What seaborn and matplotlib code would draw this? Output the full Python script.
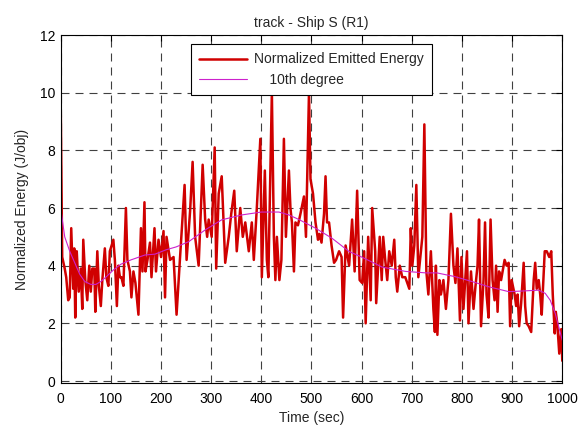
import matplotlib
matplotlib.use("Agg")
import matplotlib.pyplot as plt
import seaborn as sns
import pandas as pd

# Normalized emitted energy (time in sec, value in J/obj)
time_sec = [0, 3, 8, 11, 15, 18, 21, 25, 27, 29, 32, 36, 40, 43, 45, 49, 53, 57, 60, 63, 67, 69, 73, 76, 80, 83, 88, 91, 95, 98,
            105, 108, 112, 115, 118, 121, 125, 130, 133, 138, 141, 145, 149, 155, 160, 163, 167, 169, 173, 178, 181, 187, 190, 195,
            200, 205, 208, 211, 218, 225, 231, 238, 247, 251, 258, 263, 268, 275, 283, 288, 292, 295, 301, 307, 310, 315, 321, 328,
            335, 340, 346, 351, 358, 363, 368, 375, 381, 385, 391, 398, 401, 407, 411, 414, 421, 425, 428, 431, 436, 440, 445, 449,
            455, 458, 461, 465, 468, 473, 478, 485, 489, 495, 498, 503, 508, 513, 516, 520, 525, 528, 531, 535, 540, 545, 549, 555,
            560, 563, 568, 575, 581, 586, 591, 596, 601, 605, 608, 613, 618, 621, 627, 629, 633, 636, 640, 643, 647, 651, 655, 660,
            665, 668, 671, 676, 681, 687, 691, 695, 698, 701, 705, 709, 713, 718, 721, 725, 729, 733, 738, 743, 746, 748, 751, 755,
            758, 763, 768, 773, 778, 783, 787, 791, 796, 799, 803, 810, 813, 818, 823, 827, 831, 834, 838, 843, 846, 849, 853, 857,
            861, 865, 868, 871, 874, 878, 881, 885, 889, 893, 896, 899, 905, 908, 911, 914, 918, 923, 926, 929, 933, 938, 943, 946,
            949, 953, 956, 959, 965, 969, 974, 978, 981, 985, 987, 990, 994, 998, 1000]
energy = [9.6, 4.3, 3.9, 3.6, 2.8, 2.9, 5.3, 3.2, 4.6, 2.2, 4.5, 3.1, 3.9, 2.5, 4.9, 3.5, 2.8, 4.0, 3.1, 3.9, 3.9, 2.4, 4.5, 3.3, 2.6, 3.5, 4.6, 3.6, 3.3, 4.5,
          4.9, 4.2, 2.6, 4.0, 3.6, 3.6, 3.3, 6.0, 4.2, 3.8, 2.9, 3.8, 3.4, 2.3, 5.3, 3.8, 6.2, 3.8, 4.2, 4.8, 3.6, 5.3, 3.8, 4.9,
          4.3, 5.2, 2.9, 5.0, 4.2, 4.3, 2.3, 4.3, 6.8, 4.2, 5.9, 7.6, 5.0, 4.0, 7.5, 5.6, 5.0, 5.6, 5.0, 8.1, 3.9, 6.5, 7.1, 4.1,
          5.0, 5.8, 6.6, 4.5, 6.0, 5.0, 5.5, 4.5, 5.5, 4.2, 6.0, 8.4, 3.6, 7.3, 4.2, 3.6, 10.0, 5.0, 3.5, 5.0, 3.5, 4.2, 8.4, 5.0,
          7.3, 6.0, 5.5, 3.8, 5.5, 5.4, 5.8, 6.4, 5.0, 10.0, 7.0, 6.5, 5.5, 4.9, 5.1, 4.8, 5.8, 7.1, 5.5, 5.5, 4.7, 4.1, 4.2, 4.5,
          4.3, 2.2, 4.7, 4.0, 5.6, 3.8, 6.6, 3.5, 3.4, 4.5, 2.0, 5.0, 2.8, 6.0, 4.5, 2.7, 4.0, 5.0, 3.5, 5.0, 4.2, 3.5, 4.5, 4.0,
          4.9, 3.6, 3.1, 4.0, 3.6, 3.6, 3.4, 3.2, 5.3, 4.0, 4.7, 6.8, 3.6, 4.5, 5.0, 8.9, 3.8, 3.0, 4.5, 2.5, 1.7, 4.0, 1.6, 3.5,
          3.0, 3.5, 2.5, 3.5, 5.8, 4.0, 3.4, 4.6, 2.1, 4.3, 2.5, 4.5, 2.0, 3.8, 2.5, 3.3, 4.0, 5.6, 1.9, 3.5, 5.5, 3.0, 2.2, 5.6,
          3.5, 2.8, 4.0, 2.4, 3.8, 3.5, 3.8, 4.2, 4.0, 4.1, 1.9, 3.5, 3.0, 2.6, 3.0, 1.9, 2.7, 4.1, 2.6, 2.0, 1.9, 1.7, 3.5, 4.1,
          3.2, 3.5, 3.0, 2.3, 4.5, 4.5, 4.3, 4.5, 3.0, 1.65, 2.4, 2.0, 0.95, 1.8, 0.7]

# 10th degree polynomial fit
fit_time = [0, 8, 18, 28, 38, 48, 60, 70, 80, 90, 105, 120, 140, 168, 188, 210, 230, 255, 288, 321, 361, 400, 435, 455, 475,
            508, 541, 575, 600, 641, 688, 728, 750, 786, 820, 853, 893, 919, 953, 966, 976, 986, 1000]
fit_value = [6.0, 5.0, 4.5, 4.1, 3.7, 3.45, 3.35, 3.35, 3.45, 3.6, 3.85, 4.05, 4.2, 4.37, 4.4, 4.55, 4.65, 4.83, 5.24, 5.59,
             5.76, 5.86, 5.86, 5.76, 5.6, 5.3, 4.95, 4.49, 4.3, 3.95, 3.8, 3.75, 3.75, 3.62, 3.45, 3.27, 3.1, 3.12, 3.15, 3.04,
             2.8, 2.34, 1.41]

x_ticks = list(range(0, 1001, 100))
y_ticks = list(range(0, 13, 2))

sns.set_style("white")
plt.rcParams['font.family'] = ['Liberation Sans', 'DejaVu Sans']
FS = 10

df_e = pd.DataFrame({"Time": time_sec, "Energy": energy})
df_f = pd.DataFrame({"Time": fit_time, "Fit": fit_value})

fig = plt.figure(figsize=(5.87, 4.29), dpi=100)
ax = fig.add_axes([0.1034, 0.1065, 0.8545, 0.8119])

sns.lineplot(data=df_e, x="Time", y="Energy", ax=ax, color="#d00000", linewidth=1.8,
             estimator=None, sort=False, label="Normalized Emitted Energy")
sns.lineplot(data=df_f, x="Time", y="Fit", ax=ax, color="#cc22cc", linewidth=0.8,
             estimator=None, sort=False, label="    10th degree")

ax.set_xlim(0, 1000)
ax.set_ylim(-0.08, 12)
ax.set_xticks(x_ticks)
ax.set_yticks(y_ticks)
ax.tick_params(direction="in", top=True, right=True, length=4, width=0.8, labelsize=FS, colors="black")
ax.tick_params(axis="x", pad=6)
ax.tick_params(axis="y", pad=4)
ax.grid(True, color="0.25", linestyle=(0, (7.2, 5.4)), linewidth=0.8)
for s in ax.spines.values():
    s.set_color("black")
    s.set_linewidth(0.8)

ax.set_xlabel("Time (sec)", fontsize=FS, labelpad=4)
ax.set_ylabel("Normalized Energy (J/obj)", fontsize=FS, labelpad=8)
ax.set_title("track - Ship S (R1)", fontsize=FS, pad=6)

leg = ax.legend(loc="upper center", bbox_to_anchor=(0.5, 0.974), fontsize=FS, frameon=True,
                fancybox=False, edgecolor="black", framealpha=1, borderaxespad=0,
                handlelength=3.5, handletextpad=0.5, borderpad=0.6, labelspacing=0.45)
leg.get_frame().set_linewidth(0.8)

fig.savefig("out.png", dpi=100)
